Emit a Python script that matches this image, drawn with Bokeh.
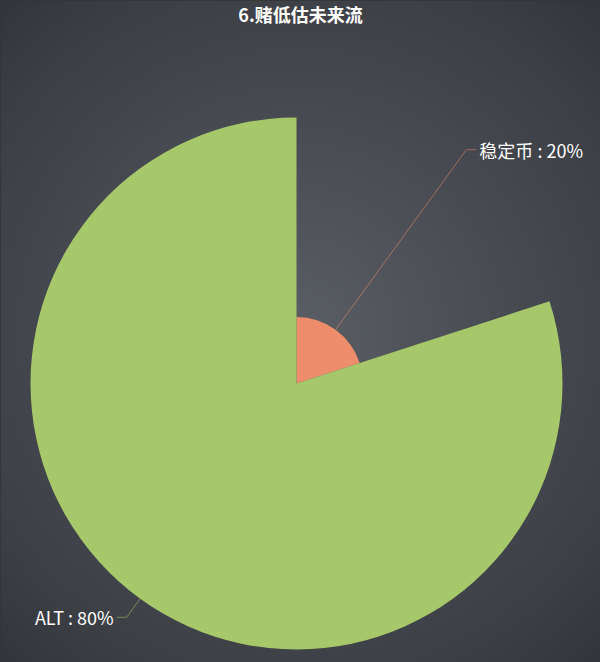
import numpy as np
from bokeh.plotting import figure
from bokeh.models import Range1d, ColumnDataSource
from bokeh.core.properties import value
from bokeh.embed import file_html
from bokeh.resources import INLINE

# ---------------- data ----------------
title_text = "6.赌低估未来流"
categories = ["稳定币", "ALT"]
values = [20, 80]
colors = ["#ed8d6b", "#a6c86b"]

# ---------------- layout ----------------
W, H = 600, 662
CX, CY = 296, 383          # pie centre in page pixels
R_MAX = 266                # radius of the largest slice (rose type)
FONT = "Noto Sans CJK SC"

p = figure(width=W, height=H,
           x_range=Range1d(-CX, W - CX), y_range=Range1d(CY - H, CY),
           output_backend="svg", toolbar_location=None,
           x_axis_location=None, y_axis_location=None,
           min_border=0, outline_line_color=None)
p.grid.visible = False
p.background_fill_color = "#323539"
p.border_fill_color = "#323539"

# ---------------- radial background ----------------
nx, ny = 300, 331
xs = (np.arange(nx) + 0.5) * W / nx
ys_data = (CY - H) + (np.arange(ny) + 0.5) * H / ny
ys_screen = CY - ys_data
X, Y = np.meshgrid(xs, ys_screen)
d = np.hypot(X - 300, Y - 331)
stops_d = [0, 120, 285, 362, 450]
stops_c = np.array([[90, 94, 101], [80, 84, 90], [66, 69, 75], [60, 63, 68], [50, 53, 58]])
img = np.zeros((ny, nx), dtype=np.uint32)
view = img.view(dtype=np.uint8).reshape((ny, nx, 4))
for k in range(3):
    view[:, :, k] = np.interp(d, stops_d, stops_c[:, k]).astype(np.uint8)
view[:, :, 3] = 255
p.image_rgba(image=[img], x=-CX, y=CY - H, dw=W, dh=H)

# ---------------- rose pie ----------------
total = float(sum(values))
vmax = float(max(values))
starts, ends, radii = [], [], []
cum = 0.0
for v in values:
    starts.append(np.deg2rad(90 - cum / total * 360))
    cum += v
    ends.append(np.deg2rad(90 - cum / total * 360))
    radii.append(v / vmax * R_MAX)

src = ColumnDataSource(dict(start=starts, end=ends, r=radii, color=colors, name=categories))
p.wedge(x=0, y=0, radius="r", start_angle="start", end_angle="end",
        direction="clock", fill_color="color", line_color=None, source=src)

# ---------------- labels ----------------
ELBOW = R_MAX + 23
lx, ly, tx, ty, txt, aligns = [], [], [], [], [], []
for name, v, s, e, r, c in zip(categories, values, starts, ends, radii, colors):
    mid = (s + e) / 2
    x0, y0 = r * np.cos(mid), r * np.sin(mid)
    x1, y1 = ELBOW * np.cos(mid), ELBOW * np.sin(mid)
    side = 1 if np.cos(mid) > 0 else -1
    x2 = x1 + side * 10
    p.line([x0, x1, x2], [y0, y1, y1], line_color=c, line_alpha=0.55, line_width=1)
    tx.append(x2 + side * 3)
    ty.append(y1)
    txt.append(f"{name} : {v / total * 100:.0f}%")
    aligns.append("left" if side > 0 else "right")

lab = ColumnDataSource(dict(x=tx, y=ty, text=txt, align=aligns))
p.text(x="x", y="y", text="text", text_align="align", text_baseline="middle",
       text_color="#ffffff", text_font=value(FONT), text_font_size="18px", source=lab)

# ---------------- title ----------------
p.text(x=[300 - CX], y=[CY - 13], text=[title_text], text_align="center",
       text_baseline="middle", text_color="#ffffff", text_font=value(FONT),
       text_font_size="18px", text_font_style="bold")

html = file_html(p, INLINE, title=title_text)
html = html.replace("<head>", "<head><style>html,body{margin:0;padding:0;overflow:hidden;background:#323539;}</style>", 1)
open("out.html", "w").write(html)
